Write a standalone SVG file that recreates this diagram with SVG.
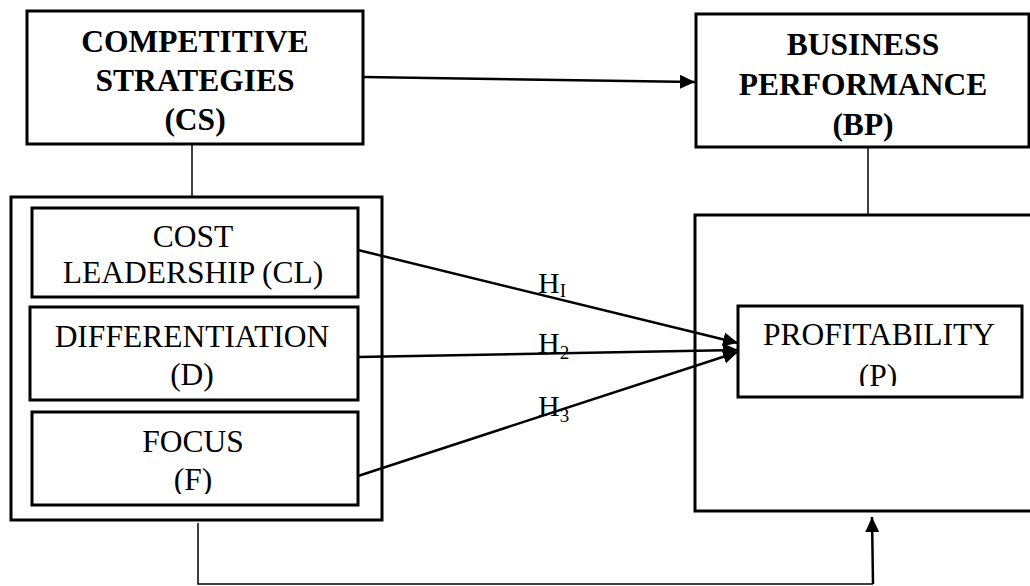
<svg xmlns="http://www.w3.org/2000/svg" width="1030" height="586" viewBox="0 0 1030 586">
<style>
.box{fill:#fff;stroke:#000;stroke-width:3}
.thin{fill:none;stroke:#000;stroke-width:1.5}
.arr{fill:none;stroke:#000;stroke-width:2.5}
.tb{font-family:"Liberation Serif","Times New Roman",serif;font-weight:bold;font-size:31.5px;text-anchor:middle;fill:#000}
.tr{font-family:"Liberation Serif","Times New Roman",serif;font-size:31.5px;text-anchor:middle;fill:#000}
.h{font-family:"Liberation Serif","Times New Roman",serif;font-size:30px;fill:#000}
.sub{font-size:19px}
</style>
<defs>
<marker id="ah" markerUnits="userSpaceOnUse" markerWidth="16" markerHeight="14" refX="15" refY="7" orient="auto">
<path d="M0,0 L15,7 L0,14 z" fill="#000"/>
</marker>
<clipPath id="clipF"><rect x="30" y="400" width="330" height="94"/></clipPath>
<clipPath id="clipP"><rect x="738" y="300" width="290" height="86"/></clipPath>
</defs>
<g id="connectors">
<line class="arr" x1="363" y1="77" x2="695" y2="82" marker-end="url(#ah)"/>
<line class="thin" x1="192" y1="144" x2="192" y2="197"/>
<line class="thin" x1="868" y1="147" x2="868" y2="215"/>
<line class="arr" x1="358" y1="250" x2="738" y2="343" marker-end="url(#ah)"/>
<line class="arr" x1="358" y1="357" x2="738" y2="350" marker-end="url(#ah)"/>
<line class="arr" x1="358" y1="476" x2="738" y2="352" marker-end="url(#ah)"/>
<polyline class="thin" points="198,523 198,584 873,584"/>
<line class="arr" x1="873" y1="584" x2="872" y2="517" marker-end="url(#ah)"/>
</g>
<g id="cs">
<rect class="box" x="27" y="11" width="336" height="133"/>
<text class="tb" x="195" y="52">COMPETITIVE</text>
<text class="tb" x="195" y="91">STRATEGIES</text>
<text class="tb" x="195" y="130">(CS)</text>
</g>
<g id="bp">
<rect class="box" x="696" y="14" width="333" height="133"/>
<text class="tb" x="863" y="55">BUSINESS</text>
<text class="tb" x="863" y="95">PERFORMANCE</text>
<text class="tb" x="863" y="135">(BP)</text>
</g>
<g id="cs-group">
<rect class="box" x="11" y="197" width="371" height="323" style="fill:none"/>
</g>
<g id="cl">
<rect class="box" x="32" y="208" width="326" height="89"/>
<text class="tr" x="193" y="247">COST</text>
<text class="tr" x="193" y="283">LEADERSHIP (CL)</text>
</g>
<g id="d">
<rect class="box" x="30" y="307" width="328" height="93"/>
<text class="tr" x="192" y="347">DIFFERENTIATION</text>
<text class="tr" x="192" y="385">(D)</text>
</g>
<g id="f">
<rect class="box" x="32" y="412" width="326" height="93"/>
<text class="tr" x="193" y="452">FOCUS</text>
<text class="tr" x="193" y="490" clip-path="url(#clipF)">(F)</text>
</g>
<g id="p">
<rect class="box" x="738" y="306" width="284" height="91"/>
<text class="tr" x="879" y="345">PROFITABILITY</text>
<text class="tr" x="878" y="386" clip-path="url(#clipP)">(P)</text>
</g>
<g id="bp-group">
<path class="box" style="fill:none" d="M1032,215 L695,215 L695,511 L1032,511"/>
</g>
<g id="labels">
<text class="h" x="538" y="293">H<tspan class="sub" dy="4">I</tspan></text>
<text class="h" x="538" y="353">H<tspan class="sub" dy="6">2</tspan></text>
<text class="h" x="538" y="416">H<tspan class="sub" dy="6">3</tspan></text>
</g>
</svg>
